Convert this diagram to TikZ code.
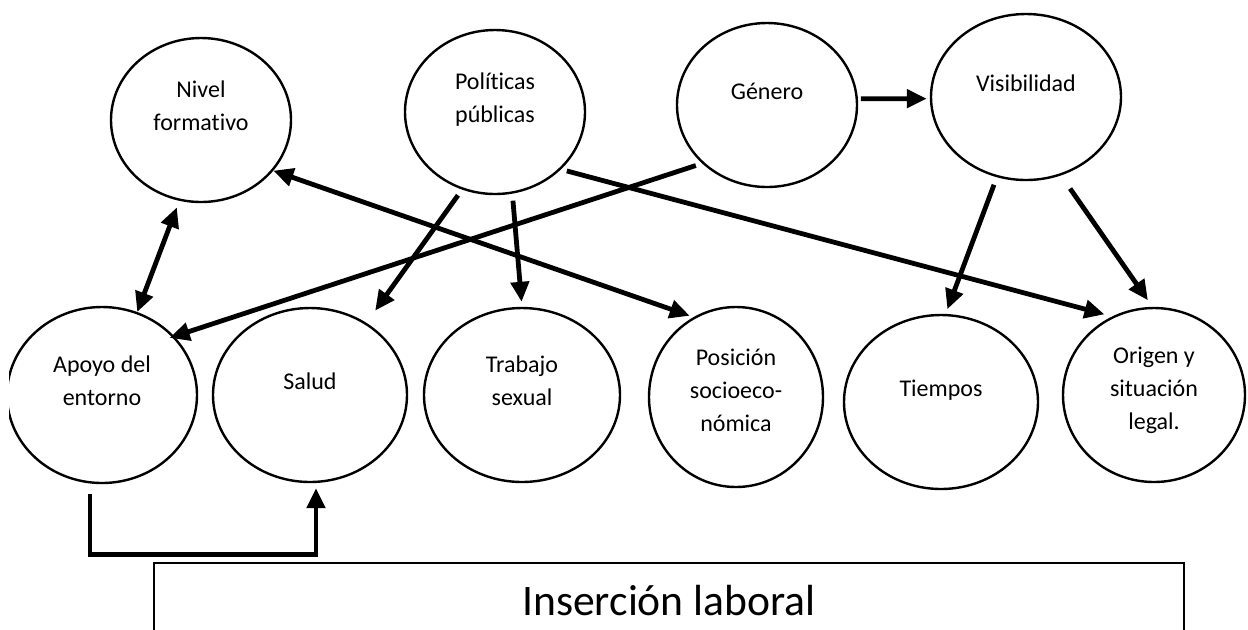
\documentclass[tikz,border=0pt]{standalone}
\usepackage{fontspec}
\setmainfont{Carlito}[Ligatures=NoCommon]
\usetikzlibrary{shapes.geometric, arrows.meta}

% pushes the text of a bubble a little above its centre
\newcommand{\txtpad}[1]{\rule[-#1]{0pt}{#1}}

\tikzset{
    bubble/.style={ellipse, draw, line width=1.2pt, minimum width=92pt, minimum height=84pt,
        inner sep=0pt, align=center, font=\fontsize{12}{16.5}\selectfont},
    arr/.style={line width=2.4pt, -{Triangle[length=10pt,width=9pt]}},
    dblarr/.style={line width=2.4pt, {Triangle[length=10pt,width=9pt]}-{Triangle[length=10pt,width=9pt]}},
}

\begin{document}
\begin{tikzpicture}[x=0.5pt, y=-0.5pt]
    \useasboundingbox (0,0) rectangle (1248,629);
    \clip (9,0) rectangle (1248,629);

    % Upper row
    \node[bubble, minimum width=90pt, minimum height=82pt] (nivel) at (201,120) {Nivel\\formativo\txtpad{14pt}};
    \node[bubble, minimum width=90pt, minimum height=82pt] (politicas) at (495,112) {Políticas\\públicas\txtpad{14pt}};
    \node[bubble, minimum width=90pt, minimum height=82pt] (genero) at (767,105) {Género\txtpad{14pt}};
    \node[bubble, minimum width=95pt, minimum height=83pt] (visib) at (1026,97) {Visibilidad\txtpad{14pt}};

    % Lower row
    \node[bubble, minimum width=95pt, minimum height=88pt] (apoyo) at (102,395) {Apoyo del\\entorno\txtpad{14pt}};
    \node[bubble, minimum width=97pt, minimum height=87pt] (salud) at (310,395) {Salud\txtpad{14pt}};
    \node[bubble, minimum width=98pt, minimum height=87pt] (trabajo) at (522,395) {Trabajo\\sexual\txtpad{14pt}};
    \node[bubble, minimum width=87pt, minimum height=90pt] (posicion) at (736,397) {Posición\\socioeco-\\nómica\txtpad{7pt}};
    \node[bubble, minimum width=97pt, minimum height=87pt] (tiempos) at (941,402) {Tiempos\txtpad{14pt}};
    \node[bubble, minimum width=91pt, minimum height=87pt] (origen) at (1154,395) {Origen y\\situación\\legal.\txtpad{7pt}};

    % Bottom box
    \node[draw, line width=1pt, anchor=north west, minimum width=515pt, minimum height=38pt,
        font=\fontsize{21.8}{25}\selectfont] (insercion) at (153,562) {Inserción laboral};

    % Links
    \draw[dblarr, shorten <=3.5pt] (nivel.255) -- (apoyo.67);
    \draw[dblarr, shorten >=2pt] (nivel.325) -- (posicion.118);
    \draw[arr, shorten <=3.5pt, shorten >=7.5pt] (politicas.247) -- (salud.52);
    \draw[arr, shorten <=3.5pt, shorten >=2.5pt] (politicas.282) -- (trabajo.90);
    \draw[arr, shorten <=3pt, shorten >=4pt] (politicas.319) -- (origen.118);
    \draw[arr, shorten <=3.3pt, shorten >=-2.5pt] (genero.222) -- (apoyo.39);
    \draw[arr, shorten <=1.5pt, shorten >=1.5pt] (genero.4) -- (visib.181);
    \draw[arr, shorten <=4pt, shorten >=2.5pt] (visib.250) -- (tiempos.87);
    \draw[arr, shorten <=8pt, shorten >=4pt] (visib.294) -- (origen.91);
    \draw[arr, shorten <=5pt, shorten >=2.5pt] ([xshift=-6pt]apoyo.south) -- ++(0,70) -| ([xshift=3pt]salud.south);
\end{tikzpicture}
\end{document}
